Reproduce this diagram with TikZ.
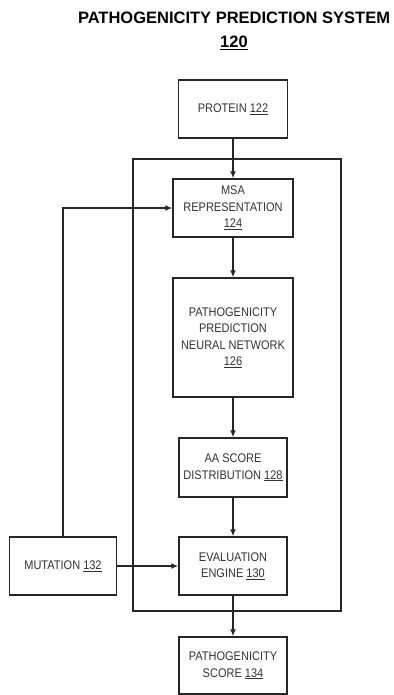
\documentclass[tikz,border=0pt]{standalone}
\usepackage{fontspec}
\setmainfont{Liberation Sans}
\newfontfamily\boxfont[FakeStretch=0.88]{Liberation Sans}
\usetikzlibrary{arrows.meta}

\begin{document}
\begin{tikzpicture}[x=1pt,y=-1pt,font=\boxfont\fontsize{12.5}{16.5}\selectfont,
box/.style={draw=black!85,line width=1.4pt,align=center,inner sep=2pt,text=black!80},
arr/.style={-{Latex[length=7pt,width=6pt]},line width=1.5pt,draw=black!85}]
\useasboundingbox(0,0)rectangle(393,695);

\node[font=\bfseries\fontsize{16.5}{20}\selectfont,anchor=base](title)at(234,24){PATHOGENICITY PREDICTION SYSTEM};
\node[font=\bfseries\fontsize{16.5}{20}\selectfont,anchor=base](titlenum)at(234,48){\underline{120}};
\node[box,minimum width=208pt,minimum height=452pt](sys)at(237,385){};
\node[box,minimum width=109pt,minimum height=58pt](protein)at(233,109){PROTEIN \underline{122}};
\node[box,minimum width=120pt,minimum height=58pt](msa)at(233,208){MSA\\REPRESENTATION\\\underline{124}};
\node[box,minimum width=120pt,minimum height=119pt](ppnn)at(233,337.5){PATHOGENICITY\\PREDICTION\\NEURAL NETWORK\\\underline{126}};
\node[box,minimum width=108pt,minimum height=59pt](aa)at(233,467.5){AA SCORE\\DISTRIBUTION \underline{128}};
\node[box,minimum width=108pt,minimum height=58pt](eval)at(233,566){EVALUATION\\ENGINE \underline{130}};
\node[box,minimum width=107pt,minimum height=58pt](mut)at(63,566){MUTATION \underline{132}};
\node[box,minimum width=108pt,minimum height=57pt](score)at(233,665.5){PATHOGENICITY\\SCORE \underline{134}};
\draw[arr](protein)--(msa);
\draw[arr](msa)--(ppnn);
\draw[arr](ppnn)--(aa);
\draw[arr](aa)--(eval);
\draw[arr](eval)--(score);
\draw[arr](mut)--(eval);
\draw[arr](mut.north)|-(msa.west);
\end{tikzpicture}
\end{document}
